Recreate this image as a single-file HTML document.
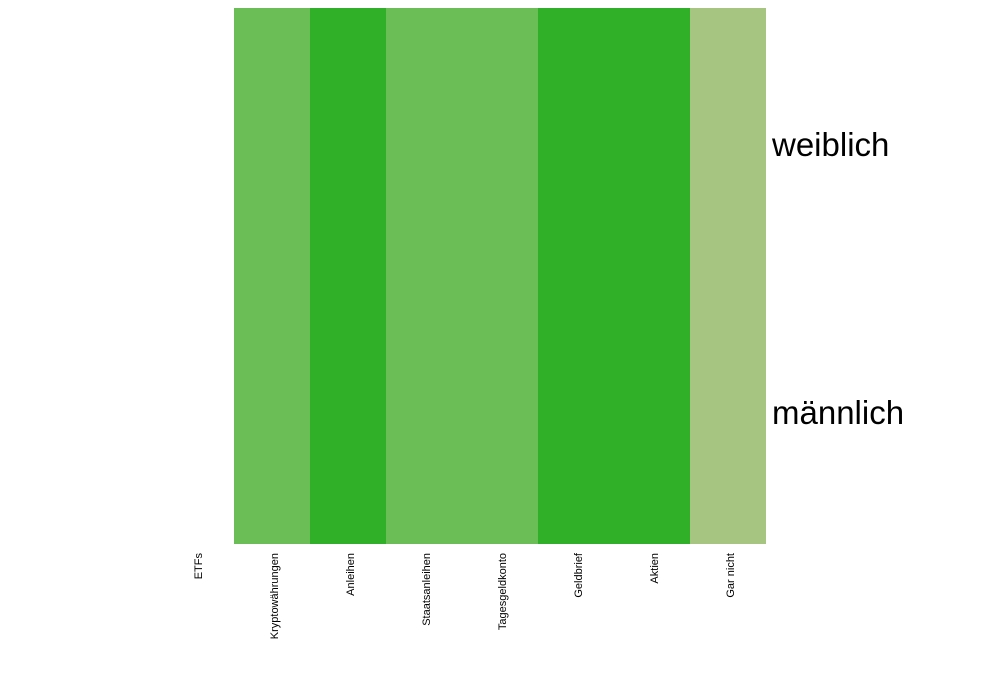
<!DOCTYPE html>
<html><head><meta charset="utf-8"><style>
html,body{margin:0;padding:0;background:#fff;}
svg{display:block;font-family:"Liberation Sans",Arial,sans-serif;}
</style></head><body>
<svg id="chart" width="1000" height="700"></svg>
<script>
const categories=["ETFs","Kryptowährungen","Anleihen","Staatsanleihen","Tagesgeldkonto","Geldbrief","Aktien","Gar nicht"];
const rows=["weiblich","männlich"];
const valuesWeiblich=[null,2,3,2,2,3,3,1];
const valuesMaennlich=[null,2,3,2,2,3,3,1];
const series=[valuesWeiblich,valuesMaennlich];
const palette={1:"#a5c580",2:"#6bbd55",3:"#2fb028"};

const svg=document.getElementById('chart');
const NS="http://www.w3.org/2000/svg";
const x0=158,cw=76,y0=8,rh=268;
function xPos(i){return x0+i*cw;}
function yPos(r){return y0+r*rh;}
function color(v){return v==null?"#ffffff":palette[v];}

series.forEach((vals,r)=>{
  vals.forEach((v,i)=>{
    const rect=document.createElementNS(NS,'rect');
    rect.setAttribute('x',xPos(i));rect.setAttribute('y',yPos(r));
    rect.setAttribute('width',cw);rect.setAttribute('height',rh);
    rect.setAttribute('fill',color(v));
    
    
    svg.appendChild(rect);
  });
});
categories.forEach((c,i)=>{
  const t=document.createElementNS(NS,'text');
  const cx=xPos(i)+cw/2+6, ty=yPos(rows.length)+9;
  t.setAttribute('x',cx);t.setAttribute('y',ty);
  t.setAttribute('transform','rotate(-90 '+cx+' '+ty+')');
  t.setAttribute('text-anchor','end');t.setAttribute('font-size','11');
  t.textContent=c;
  
  
  svg.appendChild(t);
});
rows.forEach((r,k)=>{
  const t=document.createElementNS(NS,'text');
  t.setAttribute('x',xPos(categories.length)+6);
  t.setAttribute('y',yPos(k)+rh/2+14);
  t.setAttribute('font-size','33');
  t.textContent=r;
  
  
  svg.appendChild(t);
});
</script>
</body></html>
